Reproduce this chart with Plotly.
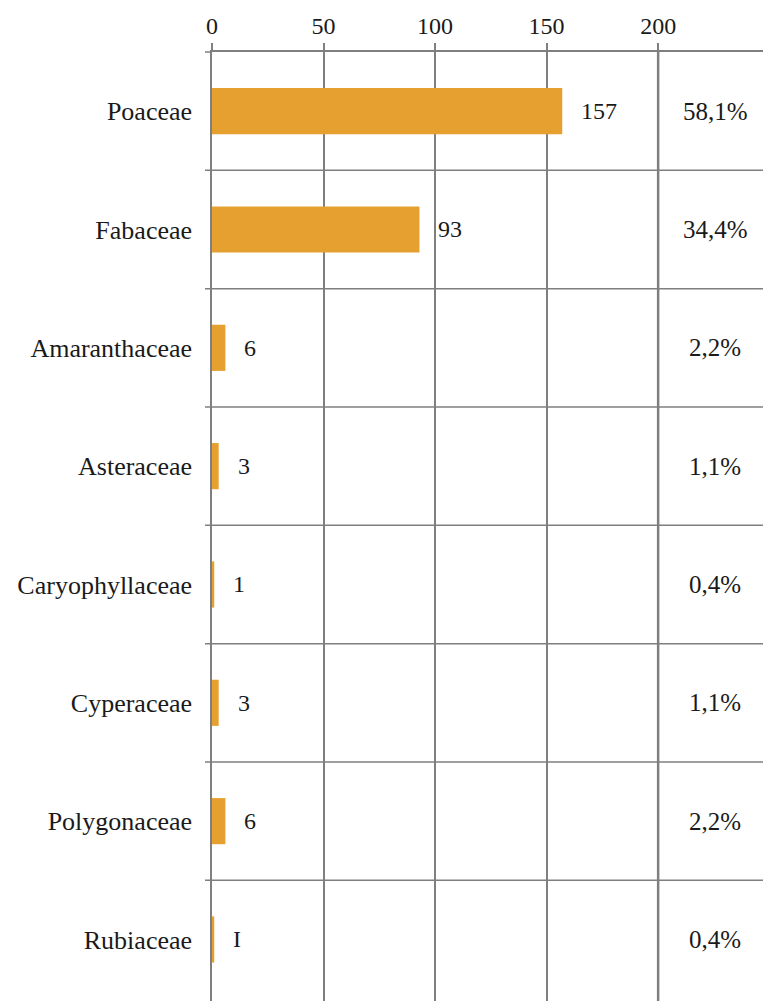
import plotly.graph_objects as go

families = ["Poaceae", "Fabaceae", "Amaranthaceae", "Asteraceae",
            "Caryophyllaceae", "Cyperaceae", "Polygonaceae", "Rubiaceae"]
counts = [157, 93, 6, 3, 1, 3, 6, 1]
count_labels = ["157", "93", "6", "3", "1", "3", "6", "I"]
percents = ["58,1%", "34,4%", "2,2%", "1,1%", "0,4%", "1,1%", "2,2%", "0,4%"]
x_ticks = [0, 50, 100, 150, 200]

FONT = "Liberation Serif, Times New Roman, serif"
GRID = "#7f7f7f"
TXT = "#1a1a1a"

fig = go.Figure()
fig.add_trace(go.Bar(
    x=counts, y=families, orientation="h",
    marker=dict(color="#E6A030", line=dict(width=0)),
    width=0.39, hoverinfo="x+y",
))

for fam, c, lab, p in zip(families, counts, count_labels, percents):
    fig.add_annotation(x=c, y=fam, xref="x", yref="y", text=lab,
                       showarrow=False, xanchor="left", xshift=17,
                       font=dict(family=FONT, size=24, color=TXT))
    fig.add_annotation(x=225.5, y=fam, xref="x", yref="y", text=p,
                       showarrow=False, xanchor="center",
                       font=dict(family=FONT, size=25, color=TXT))

# horizontal separators between categories (extend slightly left of axis)
for i in range(len(families) - 1):
    fig.add_shape(type="line", xref="paper", yref="y",
                  x0=-7 / 551, x1=1, y0=i + 0.5, y1=i + 0.5,
                  line=dict(color=GRID, width=1.5), layer="below")
# short extension of the top axis line to the left
fig.add_shape(type="line", xref="paper", yref="paper",
              x0=-7 / 551, x1=0, y0=1, y1=1,
              line=dict(color=GRID, width=1.5))
# thicker line at 200
fig.add_shape(type="line", xref="x", yref="paper",
              x0=200, x1=200, y0=0, y1=1,
              line=dict(color=GRID, width=2.5), layer="below")

fig.update_xaxes(side="top", range=[0, 247], tickvals=x_ticks,
                 showgrid=True, gridcolor=GRID, gridwidth=1.5,
                 zeroline=False, showline=True, linecolor=GRID, linewidth=1.5,
                 ticks="outside", ticklen=7, tickcolor=GRID, tickwidth=1.5,
                 tickfont=dict(family=FONT, size=24, color=TXT),
                 fixedrange=True)
fig.update_yaxes(showgrid=False, zeroline=False,
                 showline=True, linecolor=GRID, linewidth=1.5,
                 ticks="", ticklabelstandoff=13,
                 tickfont=dict(family=FONT, size=26, color=TXT),
                 autorange=False, range=[7.52, -0.5], fixedrange=True)

fig.update_layout(
    width=763, height=1001,
    margin=dict(l=212, r=0, t=52, b=0),
    plot_bgcolor="white", paper_bgcolor="white",
    showlegend=False,
)

fig.write_html("out.html", config={"displayModeBar": False},
               post_script="document.body.style.margin='0';document.body.style.overflow='hidden';")
